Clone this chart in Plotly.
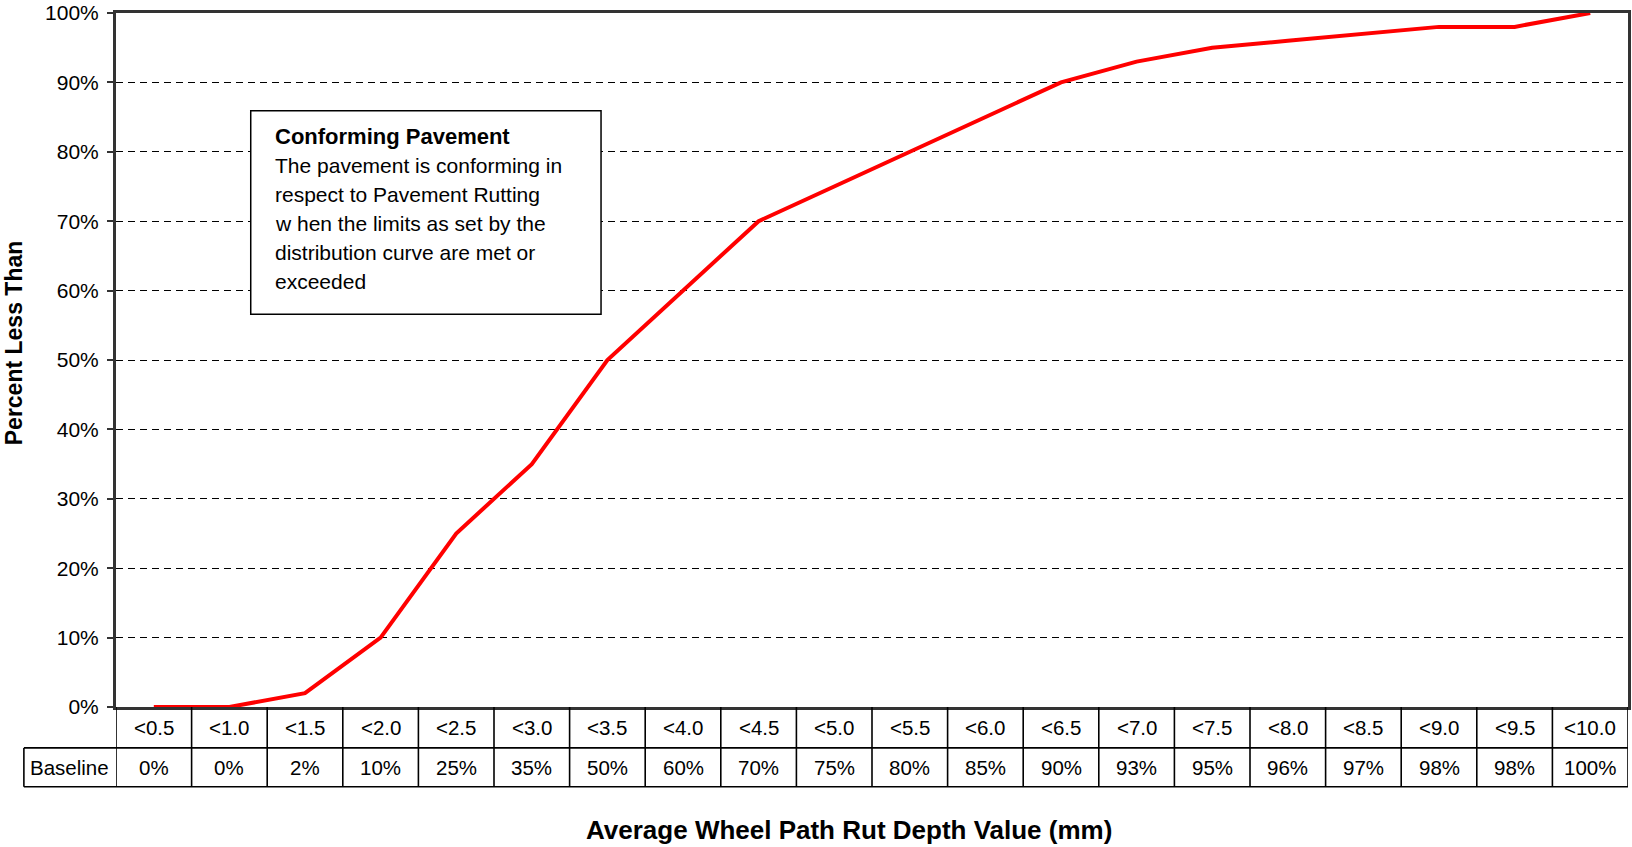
import plotly.graph_objects as go

# Rut depth classes and the baseline cumulative distribution
depth_classes = ["<0.5", "<1.0", "<1.5", "<2.0", "<2.5", "<3.0", "<3.5", "<4.0", "<4.5", "<5.0",
                 "<5.5", "<6.0", "<6.5", "<7.0", "<7.5", "<8.0", "<8.5", "<9.0", "<9.5", "<10.0"]
baseline_pct = [0, 0, 2, 10, 25, 35, 50, 60, 70, 75, 80, 85, 90, 93, 95, 96, 97, 98, 98, 100]
y_ticks = [0, 10, 20, 30, 40, 50, 60, 70, 80, 90, 100]
note_lines = [
    "<b>Conforming Pavement</b>",
    "The pavement is conforming in",
    "respect to Pavement Rutting",
    "w hen the limits as set by the",
    "distribution curve are met or",
    "exceeded",
]

W, H = 1632, 847
L, R, T, B = 116, 1, 11, 140
PW, PH = W - L - R, H - T - B
FONT = "Liberation Sans, Arial, sans-serif"


def py(ypix):
    """Pixel row -> paper y."""
    return (H - B - ypix) / PH


def px(xpix):
    """Pixel column -> paper x."""
    return (xpix - L) / PW


n = len(depth_classes)
fig = go.Figure()
fig.add_trace(go.Scatter(
    x=list(range(n)), y=baseline_pct, mode="lines",
    line=dict(color="#ff0000", width=4), hoverinfo="skip", showlegend=False,
))

shapes = []
annotations = []

# Data table beneath the axis
row1_bot, row2_bot = 748, 787
tline = dict(color="black", width=1.6)
for k in range(n + 1):
    shapes.append(dict(type="line", xref="x", yref="paper", x0=k - 0.5, x1=k - 0.5,
                       y0=py(H - B), y1=py(row2_bot), line=tline))
shapes.append(dict(type="line", xref="paper", yref="paper", x0=px(23.7), x1=px(23.7),
                   y0=py(row1_bot), y1=py(row2_bot), line=tline))
shapes.append(dict(type="line", xref="paper", yref="paper", x0=px(23.7), x1=1,
                   y0=py(row1_bot), y1=py(row1_bot), line=tline))
shapes.append(dict(type="line", xref="paper", yref="paper", x0=px(23.7), x1=1,
                   y0=py(row2_bot), y1=py(row2_bot), line=tline))

cell_font = dict(family=FONT, size=20.5, color="black")
for k in range(n):
    annotations.append(dict(x=k, y=py((H - B + row1_bot) / 2), xref="x", yref="paper",
                            xanchor="center", yanchor="middle",
                            text=depth_classes[k], showarrow=False, font=cell_font))
    annotations.append(dict(x=k, y=py((row1_bot + row2_bot) / 2), xref="x", yref="paper",
                            xanchor="center", yanchor="middle",
                            text=f"{baseline_pct[k]}%", showarrow=False, font=cell_font))
annotations.append(dict(x=px((23.7 + L) / 2), y=py((row1_bot + row2_bot) / 2),
                        xref="paper", yref="paper", xanchor="center", yanchor="middle",
                        text="Baseline", showarrow=False, font=cell_font))

# Explanatory note box
shapes.append(dict(type="rect", xref="paper", yref="paper", layer="above",
                   x0=px(251), x1=px(602), y0=py(109), y1=py(313),
                   line=dict(color="black", width=1.5), fillcolor="white"))
for i, txt in enumerate(note_lines):
    annotations.append(dict(x=px(273), y=py(134.5 + 29.1 * i), xref="paper", yref="paper",
                            xanchor="left", yanchor="middle", text=txt, showarrow=False,
                            font=dict(family=FONT, size=22 if i == 0 else 21, color="black")))

# Axis titles
annotations.append(dict(x=px(14), y=py(342), xref="paper", yref="paper", textangle=-90,
                        xanchor="center", yanchor="middle",
                        text="<b>Percent Less Than</b>", showarrow=False,
                        font=dict(family=FONT, size=23, color="black")))
annotations.append(dict(x=px(850), y=py(830), xref="paper", yref="paper",
                        xanchor="center", yanchor="middle",
                        text="<b>Average Wheel Path Rut Depth Value (mm)</b>", showarrow=False,
                        font=dict(family=FONT, size=26, color="black")))

fig.update_layout(
    width=W, height=H,
    margin=dict(l=L, r=R, t=T, b=B, pad=0),
    paper_bgcolor="white", plot_bgcolor="white",
    shapes=shapes, annotations=annotations,
    xaxis=dict(range=[-0.5, n - 0.5], showticklabels=False, ticks="", showgrid=False,
               zeroline=False, showline=True, mirror=True, linecolor="#333", linewidth=3,
               fixedrange=True),
    yaxis=dict(range=[0, 100], tickvals=y_ticks, ticktext=[f"{v}%" for v in y_ticks],
               ticks="outside", ticklen=6, tickcolor="#333", tickwidth=1.5,
               ticklabelstandoff=4, ticklabeloverflow="allow",
               tickfont=dict(family=FONT, size=21, color="black"),
               showgrid=True, gridcolor="black", gridwidth=1, griddash="7px,5px",
               zeroline=False, showline=True, mirror=True, linecolor="#333", linewidth=3,
               fixedrange=True),
)

fig.write_html("out.html")
